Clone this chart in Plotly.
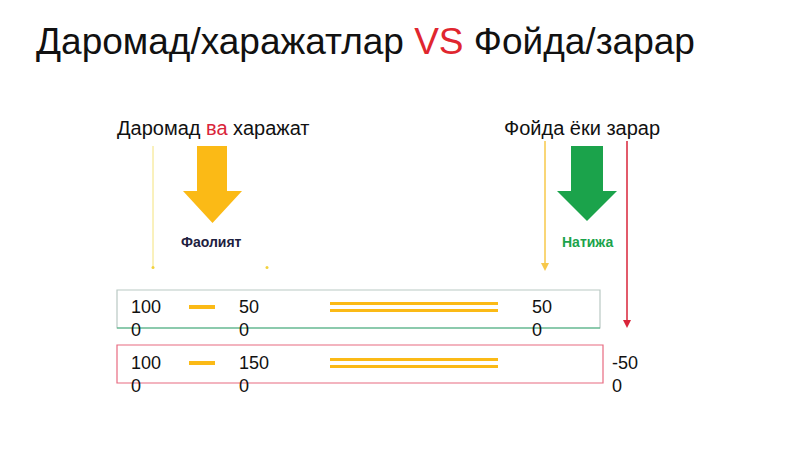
import plotly.graph_objects as go

title_parts = ["Даромад/харажатлар ", "VS", " Фойда/зарар"]
left_head = ["Даромад ", "ва", " харажат"]
right_head = "Фойда ёки зарар"
label_activity = "Фаолият"
label_result = "Натижа"
row_profit = ["100<br>0", "50<br>0", "50<br>0"]
row_loss = ["100<br>0", "150<br>0", "-50<br>0"]

YEL = "#FBBA16"
GRN = "#1BA34B"
RED = "#D9253A"
fig = go.Figure()
fig.update_xaxes(range=[8, 808], visible=False)
fig.update_yaxes(range=[456, 7], visible=False)
shapes = []
ann = []
F = "Liberation Sans, Arial"

ann.append(dict(x=34, y=40, xanchor="left", yanchor="middle", showarrow=False,
                text=f"{title_parts[0]}<span style='color:#E0262F'>{title_parts[1]}</span>{title_parts[2]}",
                font=dict(size=37, color="#111", family=F)))
ann.append(dict(x=115, y=127, xanchor="left", yanchor="middle", showarrow=False,
                text=f"{left_head[0]}<span style='color:#D9253A'>{left_head[1]}</span>{left_head[2]}",
                font=dict(size=20, color="#111", family=F)))
ann.append(dict(x=662, y=127, xanchor="right", yanchor="middle", showarrow=False,
                text=right_head, font=dict(size=20, color="#111", family=F)))
ann.append(dict(x=211, y=241, showarrow=False, text=f"<b>{label_activity}</b>",
                font=dict(size=14, color="#1E2140", family=F)))
ann.append(dict(x=587, y=241, showarrow=False, text=f"<b>{label_result}</b>",
                font=dict(size=14, color=GRN, family=F)))

def arrow(x0, x1, hx0, hx1, y0, ym, y1, c):
    xc = (hx0 + hx1) / 2
    return dict(type="path", path=f"M{x0},{y0} L{x1},{y0} L{x1},{ym} L{hx1},{ym} L{xc},{y1} L{hx0},{ym} L{x0},{ym} Z",
                fillcolor=c, line=dict(width=0))
shapes.append(arrow(197, 227, 183, 242, 145, 190, 222, YEL))
shapes.append(arrow(571, 603, 557, 617, 145, 190, 220, GRN))

shapes.append(dict(type="line", x0=153, x1=153, y0=145, y1=266, line=dict(color="#F4E27A", width=1)))
shapes.append(dict(type="circle", x0=151.5, x1=154.5, y0=265, y1=268, fillcolor="#F2D23C", line=dict(width=0)))
shapes.append(dict(type="circle", x0=265.5, x1=268.5, y0=265, y1=268, fillcolor="#F2D23C", line=dict(width=0)))
shapes.append(dict(type="line", x0=545, x1=545, y0=140, y1=262, line=dict(color="#F7C84A", width=1.5)))
shapes.append(dict(type="path", path="M541,262 L549,262 L545,270 Z", fillcolor="#F7C84A", line=dict(width=0)))
shapes.append(dict(type="line", x0=627, x1=627, y0=140, y1=320, line=dict(color=RED, width=1.5)))
shapes.append(dict(type="path", path="M623,319 L631,319 L627,327 Z", fillcolor=RED, line=dict(width=0)))

shapes.append(dict(type="rect", x0=117, x1=600, y0=289, y1=327, line=dict(color="#B9C9C4", width=1.2)))
shapes.append(dict(type="line", x0=117, x1=600, y0=327, y1=327, line=dict(color="#3DB07A", width=1.2)))
shapes.append(dict(type="rect", x0=117, x1=603, y0=344, y1=382, line=dict(color="#E86A80", width=1.2)))

for i, (row, y) in enumerate([(row_profit, 294), (row_loss, 350)]):
    xs = [129, 237, 530 if i == 0 else 610]
    for x, t in zip(xs, row):
        ann.append(dict(x=x, y=y, xanchor="left", yanchor="top", showarrow=False, align="left",
                        text=t, font=dict(size=18, color="#111", family=F)))
    yc = y + 12
    shapes.append(dict(type="line", x0=189, x1=215, y0=yc, y1=yc, line=dict(color=YEL, width=4)))
    shapes.append(dict(type="line", x0=330, x1=498, y0=yc - 3.5, y1=yc - 3.5, line=dict(color=YEL, width=3)))
    shapes.append(dict(type="line", x0=330, x1=498, y0=yc + 3.5, y1=yc + 3.5, line=dict(color=YEL, width=3)))

fig.update_layout(width=800, height=449, margin=dict(l=0, r=0, t=0, b=0),
                  plot_bgcolor="white", paper_bgcolor="white", shapes=shapes, annotations=ann,
                  showlegend=False)
fig.write_html("out.html")
